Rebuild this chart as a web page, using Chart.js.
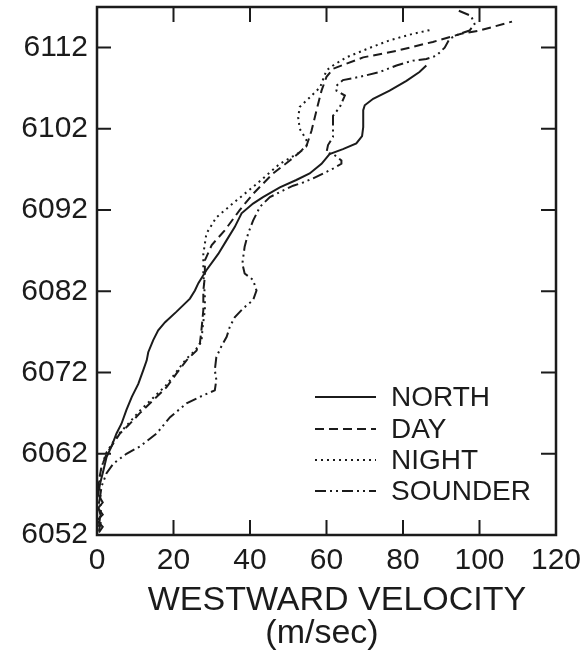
<!DOCTYPE html>
<html>
<head>
<meta charset="utf-8">
<script src="https://cdn.jsdelivr.net/npm/chart.js@4"></script>
<style>
  body { margin: 0; background: #fff; }
  #wrap { width: 584px; height: 661px; }
</style>
</head>
<body>
<div id="wrap"><canvas id="chart"></canvas></div>
<script>
// axis ticks
const xTickValues = [0, 20, 40, 60, 80, 100, 120];
const yTickValues = [6052, 6062, 6072, 6082, 6092, 6102, 6112];
const seriesNames = ['NORTH', 'DAY', 'NIGHT', 'SOUNDER'];

// NORTH (solid) - velocity (m/s) and radius (km), bottom to top
const northVel = [0.5, 1.5, 0, 1.5, 0.3, 1.5, 0.3, 0.8, 1.7, 2.5, 3.8, 5.1, 6.4, 7.7, 9.1, 10.8, 12.1, 13.0, 13.4, 14.7, 16.0, 17.8, 20.8, 24.3, 25.6, 26.5, 28.6, 31.7, 33.9, 36.0, 37.8, 40.8, 43.4, 47.8, 52.1, 55.6, 58.7, 60.8, 64.3, 67.8, 69.3, 69.6, 69.6, 70.0, 72.2, 76.5, 80.9, 84.3, 86.1];
const northAlt = [6052.3, 6053, 6053.8, 6054.5, 6055.3, 6056, 6057, 6058.3, 6060.0, 6061.6, 6062.9, 6064.5, 6065.7, 6067.4, 6069.0, 6070.6, 6072.3, 6073.5, 6074.5, 6076.0, 6077.2, 6078.2, 6079.5, 6081.1, 6082.1, 6083.0, 6084.6, 6086.6, 6088.3, 6089.9, 6091.6, 6092.8, 6093.6, 6094.8, 6095.7, 6096.5, 6097.7, 6098.9, 6099.5, 6100.2, 6101.1, 6102.2, 6104.3, 6104.9, 6105.7, 6106.7, 6107.9, 6109.0, 6109.8];

// DAY (dashed)
const dayVel = [0.5, 1.2, 0.3, 1.0, 0.3, 1.2, 2.5, 4.3, 6.0, 8.2, 11.2, 14.7, 18.2, 20.8, 23.4, 26.0, 26.9, 27.3, 27.8, 27.8, 28.2, 28.2, 30.0, 33.4, 37.3, 40.8, 46.0, 50.4, 54.7, 56.1, 57.4, 58.7, 60.0, 61.7, 69.6, 78.3, 87.8, 95.2, 100.0, 108.5];
const dayAlt = [6052.5, 6054, 6055.5, 6057, 6058.3, 6060.4, 6062.0, 6063.3, 6064.5, 6065.5, 6067.0, 6068.6, 6070.2, 6071.9, 6073.5, 6074.7, 6075.6, 6077.2, 6079.7, 6082.1, 6083.8, 6085.8, 6087.7, 6089.5, 6092.0, 6094.0, 6096.5, 6098.1, 6099.8, 6101.8, 6104.3, 6106.7, 6108.4, 6109.4, 6110.8, 6111.6, 6112.7, 6113.7, 6114.1, 6115.2];

// NIGHT (dotted)
const nightVel = [0.3, 1.0, 2.3, 4.0, 5.8, 8.0, 11.0, 14.5, 18.0, 20.6, 23.2, 25.8, 27.3, 27.6, 28.2, 28.2, 27.8, 27.8, 28.6, 31.2, 36.5, 41.7, 47.8, 53.0, 55.2, 54.3, 53.0, 52.6, 53.0, 55.7, 58.3, 60.0, 61.7, 65.2, 70.4, 76.5, 82.6, 87.4];
const nightAlt = [6057, 6060, 6062, 6063.3, 6064.5, 6065.6, 6067.2, 6068.8, 6070.4, 6072, 6073.6, 6074.8, 6075.8, 6077.5, 6079.7, 6081.3, 6084.2, 6086.6, 6089.1, 6091.1, 6093.2, 6095.2, 6097.7, 6099.1, 6100.2, 6101.0, 6102.0, 6103.4, 6104.7, 6105.9, 6107.1, 6109.2, 6109.8, 6110.8, 6111.8, 6112.9, 6113.7, 6114.2];

// SOUNDER (dash-dot-dot)
const sounderVel = [0.5, 1.0, 0.8, 1.2, 2.5, 4.3, 7.7, 11.2, 15.6, 19.1, 23.4, 27.8, 30.8, 31.2, 30.8, 31.2, 32.5, 33.9, 34.7, 36.0, 38.2, 40.8, 41.7, 40.8, 38.6, 38.0, 38.6, 39.5, 40.8, 42.6, 45.2, 48.6, 51.3, 53.9, 56.5, 59.1, 61.7, 63.9, 63.9, 62.0, 60.0, 60.4, 61.7, 61.7, 61.7, 63.5, 64.8, 62.6, 62.6, 64.3, 68.7, 73.9, 78.3, 82.6, 86.1, 88.7, 90.9, 92.2, 94.8, 97.4, 98.7, 97.8, 94.3];
const sounderAlt = [6053, 6055, 6056.7, 6058.0, 6059.6, 6060.8, 6062.0, 6062.9, 6064.5, 6066.5, 6068.2, 6069.2, 6069.8, 6071.1, 6072.3, 6073.9, 6075.2, 6076.4, 6077.6, 6078.8, 6079.9, 6080.9, 6082.1, 6083.4, 6084.2, 6085.4, 6087.5, 6089.1, 6090.7, 6092.4, 6093.6, 6094.4, 6095.0, 6095.4, 6095.9, 6096.5, 6097.1, 6097.7, 6098.1, 6098.8, 6099.1, 6100.0, 6101.0, 6102.2, 6103.6, 6104.7, 6106.1, 6106.7, 6107.3, 6108.0, 6108.4, 6109.0, 6109.8, 6110.4, 6110.6, 6111.0, 6112.0, 6113.1, 6113.7, 6114.1, 6114.9, 6115.9, 6116.6];

const ink = '#1b1b1b';
const fontFamily = '"Liberation Sans", Arial, sans-serif';

function toPoints(xs, ys) {
  return xs.map((x, i) => ({ x: x, y: ys[i] }));
}

const seriesData = [
  toPoints(northVel, northAlt),
  toPoints(dayVel, dayAlt),
  toPoints(nightVel, nightAlt),
  toPoints(sounderVel, sounderAlt)
];
const seriesDash = [[], [9, 5], [2, 4], [11, 4, 2, 4, 2, 4]];

const datasets = seriesNames.map((name, i) => ({
  label: name,
  data: seriesData[i],
  showLine: true,
  borderColor: ink,
  borderWidth: 2,
  borderDash: seriesDash[i],
  pointRadius: 0,
  fill: false,
  tension: 0
}));

// frame, inward ticks, legend and axis title
const decorations = {
  id: 'decorations',
  afterDraw(chart) {
    const ctx = chart.ctx;
    const a = chart.chartArea;
    const xs = chart.scales.x, ys = chart.scales.y;
    ctx.save();
    ctx.strokeStyle = ink;
    ctx.setLineDash([]);
    ctx.lineWidth = 2.5;
    ctx.strokeRect(a.left, a.top, a.right - a.left, a.bottom - a.top);

    ctx.lineWidth = 2;
    ctx.beginPath();
    xTickValues.slice(1, -1).forEach(v => {
      const px = xs.getPixelForValue(v);
      ctx.moveTo(px, a.bottom); ctx.lineTo(px, a.bottom - 15);
      ctx.moveTo(px, a.top); ctx.lineTo(px, a.top + 15);
    });
    yTickValues.slice(1).forEach(v => {
      const py = ys.getPixelForValue(v);
      ctx.moveTo(a.left, py); ctx.lineTo(a.left + 14, py);
      ctx.moveTo(a.right, py); ctx.lineTo(a.right - 15, py);
    });
    ctx.stroke();

    // legend
    ctx.font = '28px ' + fontFamily;
    ctx.fillStyle = ink;
    ctx.textAlign = 'left';
    ctx.textBaseline = 'middle';
    const rows = [397, 429, 460, 491];
    chart.data.datasets.forEach((ds, i) => {
      ctx.setLineDash(ds.borderDash);
      ctx.lineWidth = 2;
      ctx.beginPath();
      ctx.moveTo(315, rows[i]);
      ctx.lineTo(376, rows[i]);
      ctx.stroke();
      ctx.fillText(ds.label, 391, rows[i] + 1);
    });

    // axis title
    ctx.font = '34px ' + fontFamily;
    ctx.textAlign = 'center';
    ctx.fillText('WESTWARD VELOCITY', 337, 601);
    ctx.fillText('(m/sec)', 322, 634);
    ctx.restore();
  }
};

new Chart(document.getElementById('chart'), {
  type: 'scatter',
  data: { datasets: datasets },
  plugins: [decorations],
  options: {
    responsive: true,
    maintainAspectRatio: false,
    animation: false,
    layout: { padding: { top: 7, right: 28, bottom: 0, left: 0 } },
    plugins: { legend: { display: false }, tooltip: { enabled: false } },
    scales: {
      x: {
        type: 'linear',
        min: 0,
        max: 120,
        afterBuildTicks: s => { s.ticks = xTickValues.map(v => ({ value: v })); },
        afterFit: s => { s.height = 126; s.paddingLeft = 0; s.paddingRight = 0; },
        grid: { display: false, drawTicks: false },
        border: { display: false },
        ticks: { color: ink, font: { family: fontFamily, size: 30 }, padding: 8, maxRotation: 0, autoSkip: false }
      },
      y: {
        type: 'linear',
        min: 6052,
        max: 6117,
        afterBuildTicks: s => { s.ticks = yTickValues.map(v => ({ value: v })); },
        afterFit: s => { s.width = 97; s.paddingTop = 0; s.paddingBottom = 0; },
        grid: { display: false, drawTicks: false },
        border: { display: false },
        ticks: { color: ink, font: { family: fontFamily, size: 30 }, padding: 9, autoSkip: false, callback: v => String(v) }
      }
    }
  }
});
</script>
</body>
</html>
